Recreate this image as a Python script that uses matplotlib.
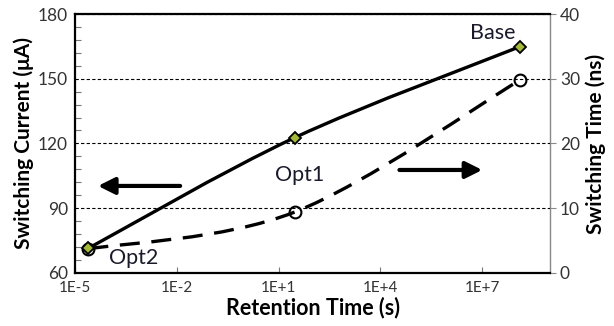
import numpy as np
import matplotlib.pyplot as plt
from matplotlib.path import Path
from matplotlib.patches import PathPatch
from matplotlib.ticker import FixedLocator, MultipleLocator

plt.rcParams['font.family'] = ['Lato', 'DejaVu Sans']

# data
labels = ['Opt2', 'Opt1', 'Base']
retention = [2.5e-5, 30, 1.3e8]          # s
current = [71.4, 122.7, 164.9]           # uA
sw_time = [3.7, 9.4, 29.8]               # ns

xticks = [1e-5, 1e-2, 1e1, 1e4, 1e7]
xtick_labels = ['1E-5', '1E-2', '1E+1', '1E+4', '1E+7']


def smooth_path(xs, ys):
    # Excel-style smoothed line: cubic bezier segments, built in log-x space
    lx = np.log10(xs)
    ys = np.asarray(ys, float)
    n = len(lx)
    verts = [(xs[0], ys[0])]
    codes = [Path.MOVETO]
    for i in range(n - 1):
        i0 = max(i - 1, 0)
        i3 = min(i + 2, n - 1)
        c1 = (lx[i] + (lx[i + 1] - lx[i0]) / 6, ys[i] + (ys[i + 1] - ys[i0]) / 6)
        c2 = (lx[i + 1] - (lx[i3] - lx[i]) / 6, ys[i + 1] - (ys[i3] - ys[i]) / 6)
        verts += [(10 ** c1[0], c1[1]), (10 ** c2[0], c2[1]), (xs[i + 1], ys[i + 1])]
        codes += [Path.CURVE4] * 3
    return Path(verts, codes)


fig = plt.figure(figsize=(6.14, 3.26), dpi=100)
ax = fig.add_axes([0.122, 0.163, 0.774, 0.794])
ax2 = ax.twinx()

ax.set_xscale('log')
ax.set_xlim(1e-5, 1e9)
ax.set_ylim(60, 180)
ax2.set_ylim(0, 40)

# grid (dashed, from left axis majors)
ax.yaxis.set_major_locator(MultipleLocator(30))
ax.yaxis.set_minor_locator(MultipleLocator(6))
ax.yaxis.grid(True, linestyle=(0, (3, 2)), color='black', lw=0.8)
ax.set_axisbelow(True)

# current curve (solid, diamonds)
ax.add_patch(PathPatch(smooth_path(retention, current), fill=False,
                       lw=2.4, color='black', zorder=3))
ax.plot(retention, current, ls='none', marker='D', ms=6.3,
        mfc='#a4b83a', mec='black', mew=1.3, zorder=4)

# switching time curve (dashed, open circles)
ax2.add_patch(PathPatch(smooth_path(retention, sw_time), fill=False,
                        lw=2.4, color='black', ls=(0, (6, 3.5)), zorder=3))
ax2.plot(retention, sw_time, ls='none', marker='o', ms=8.5,
         mfc='none', mec='black', mew=1.5, zorder=4)
ax.set_zorder(ax2.get_zorder() + 1)
ax.patch.set_visible(False)

# point labels
ax.text(5.5e-4, 67.0, labels[0], ha='center', va='center', fontsize=15.5, color='#1a1a2a')
ax.text(41, 105.4, labels[1], ha='center', va='center', fontsize=15.5, color='#1a1a2a')
ax.text(2e7, 171.2, labels[2], ha='center', va='center', fontsize=15.5, color='#1a1a2a')

# axis arrows
arr = dict(arrowstyle='-|>,head_length=1.0,head_width=0.5', lw=3, color='black',
           shrinkA=0, shrinkB=0)
ax.annotate('', xy=(10 ** -4.32, 100.3), xytext=(10 ** -1.9, 100.3), arrowprops=arr)
ax.annotate('', xy=(10 ** 7.0, 107.7), xytext=(10 ** 4.56, 107.7), arrowprops=arr)

# x axis
ax.xaxis.set_major_locator(FixedLocator(xticks))
ax.set_xticklabels(xtick_labels)
ax.xaxis.set_minor_locator(FixedLocator([]))
ax.tick_params(axis='x', direction='in', length=4, width=0.8, color='#777777',
               labelsize=11, labelcolor='#333333', pad=6)
ax.tick_params(axis='y', which='major', length=0, labelsize=12.5,
               labelcolor='#333333', pad=5)
ax.tick_params(axis='y', which='minor', direction='in', length=4, width=0.8,
               color='#777777')
ax2.yaxis.set_major_locator(MultipleLocator(10))
ax2.tick_params(axis='y', direction='out', length=4, width=0.8, color='#888888',
                labelsize=12.5, labelcolor='#333333', pad=3)

for s in ['left', 'top', 'bottom']:
    ax.spines[s].set_linewidth(1.6)
    ax.spines[s].set_color('black')
ax.spines['right'].set_visible(False)
ax2.spines['right'].set_color('#888888')
ax2.spines['right'].set_linewidth(1.0)
for s in ['left', 'top', 'bottom']:
    ax2.spines[s].set_visible(False)

ax.set_xlabel('Retention Time (s)', fontsize=15.5, fontweight='bold', labelpad=1)
ax.set_ylabel('Switching Current (\u03bcA)', fontsize=15, fontweight='bold', labelpad=3)
ax2.set_ylabel('Switching Time (ns)', fontsize=15, fontweight='bold', labelpad=4)

fig.savefig('out.png', dpi=100)
